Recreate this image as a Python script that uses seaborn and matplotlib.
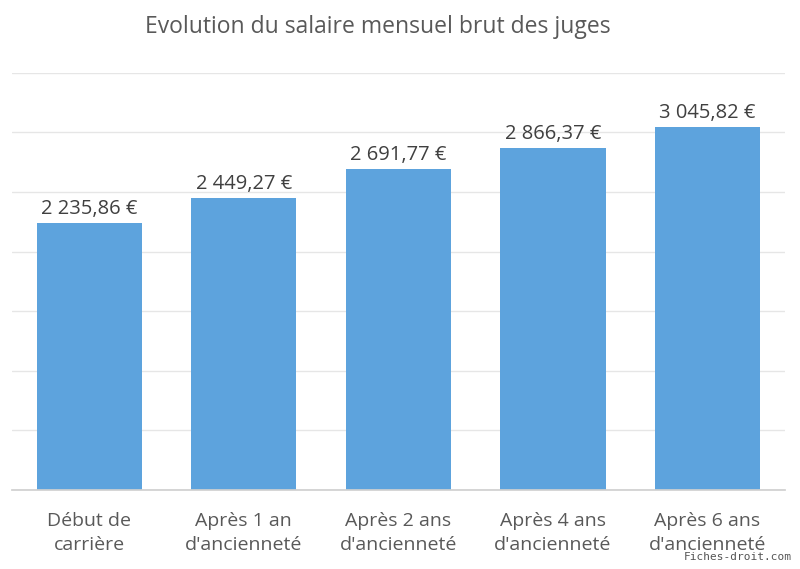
import matplotlib
matplotlib.use("Agg")
import matplotlib.pyplot as plt
import numpy as np
import pandas as pd
import seaborn as sns

categories = ["Début de\ncarrière", "Après 1 an\nd'ancienneté", "Après 2 ans\nd'ancienneté",
              "Après 4 ans\nd'ancienneté", "Après 6 ans\nd'ancienneté"]
salaires = [2235.86, 2449.27, 2691.77, 2866.37, 3045.82]
labels = ["2 235,86 €", "2 449,27 €", "2 691,77 €", "2 866,37 €", "3 045,82 €"]

sns.set_theme(style="white")
plt.rcParams["font.family"] = ["Open Sans", "DejaVu Sans"]

df = pd.DataFrame({"cat": categories, "val": salaires})

fig = plt.figure(figsize=(8, 5.69), dpi=100)
ax = fig.add_axes([0.015, 0.139, 0.966, 0.733])
sns.barplot(data=df, x="cat", y="val", color="#5DA3DD", saturation=1, width=0.68,
            linewidth=0, ax=ax)

ax.set_ylim(0, 3500)
ax.set_xlim(-0.5, 4.5)
ax.set_yticks(np.arange(0, 3501, 500))
ax.yaxis.grid(True, color="#E6E6E6", linewidth=1)
ax.set_axisbelow(True)
ax.set_yticklabels([])
ax.tick_params(axis="y", length=0)
ax.tick_params(axis="x", length=0, labelsize=14, labelcolor="#595959", pad=16)
for t in ax.get_xticklabels():
    t.set_linespacing(1.45)
for s in ["left", "right", "top"]:
    ax.spines[s].set_visible(False)
ax.spines["bottom"].set_color("#D0D0D0")
ax.set_xlabel("")
ax.set_ylabel("")

for i, (v, lab) in enumerate(zip(salaires, labels)):
    ax.text(i, v + 35, lab, ha="center", va="bottom", fontsize=14.5, color="#404040")

fig.text(378 / 800, 1 - 27 / 569, "Evolution du salaire mensuel brut des juges",
         ha="center", va="center", fontsize=16.5, color="#595959")
fig.text(0.99, 0.012, "Fiches-droit.com", ha="right", va="bottom", fontsize=8,
         color="#555555", family="DejaVu Sans Mono")

fig.savefig("out.png", dpi=100)
